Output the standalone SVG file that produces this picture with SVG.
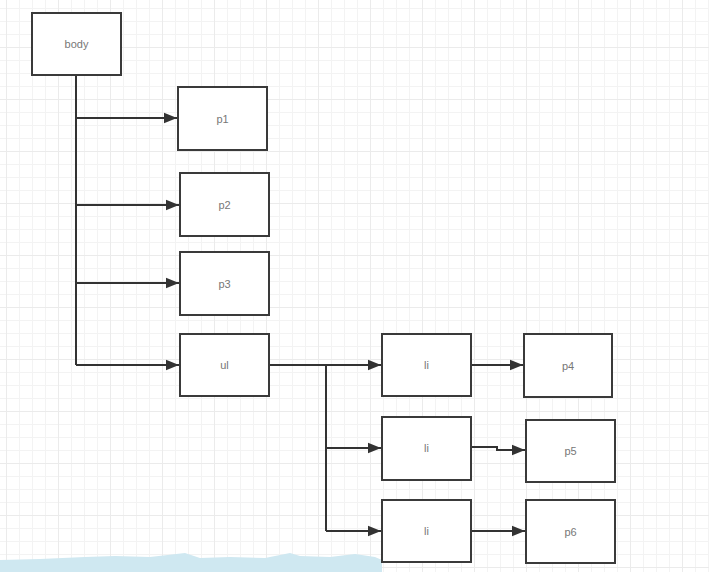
<svg xmlns="http://www.w3.org/2000/svg" width="709" height="572" viewBox="0 0 709 572">
<defs>
<pattern id="minor" x="6" y="8" width="13" height="13" patternUnits="userSpaceOnUse">
<path d="M0 0.5H13M0.5 0V13" fill="none" stroke="#f3f3f3" stroke-width="1"/>
</pattern>
<pattern id="major" x="6" y="47" width="52" height="52" patternUnits="userSpaceOnUse">
<path d="M0 0.5H52M0.5 0V52" fill="none" stroke="#ebebeb" stroke-width="1"/>
</pattern>
<marker id="arr" viewBox="0 0 10 10" refX="10" refY="5" markerWidth="13" markerHeight="13" markerUnits="userSpaceOnUse" orient="auto">
<path d="M0 1L10 5L0 9Z" fill="#333"/>
</marker>
</defs>
<style>
.box{fill:#fff;stroke:#3a3a3a;stroke-width:2}
.lbl{font-family:"Liberation Sans",Arial,sans-serif;font-size:11px;fill:#777;text-anchor:middle;dominant-baseline:central}
.ln{fill:none;stroke:#333;stroke-width:2}
.bar{fill:#cfe8f1}
</style>
<rect width="709" height="572" fill="#fff"/>
<rect width="709" height="572" fill="url(#minor)"/>
<rect width="709" height="572" fill="url(#major)"/>
<path class="bar" d="M0 572V560L40 559L85 557L115 556L150 557L185 553L200 558L230 557L265 558L290 553L300 556L330 557L355 554L375 557L382 560V572Z"/>
<g id="connectors">
<path class="ln" d="M76 75V365"/>
<path class="ln" d="M76 118H177" marker-end="url(#arr)"/>
<path class="ln" d="M76 205H179" marker-end="url(#arr)"/>
<path class="ln" d="M76 283H179" marker-end="url(#arr)"/>
<path class="ln" d="M76 365H179" marker-end="url(#arr)"/>
<path class="ln" d="M269 365H381" marker-end="url(#arr)"/>
<path class="ln" d="M326 365V531"/>
<path class="ln" d="M326 448H381" marker-end="url(#arr)"/>
<path class="ln" d="M326 531H381" marker-end="url(#arr)"/>
<path class="ln" d="M471 365H523" marker-end="url(#arr)"/>
<path class="ln" d="M471 447H497V450H525" marker-end="url(#arr)"/>
<path class="ln" d="M471 531H525" marker-end="url(#arr)"/>
</g>
<g id="body"><rect class="box" x="32" y="13" width="89" height="62"/><text class="lbl" x="76.5" y="44">body</text></g>
<g id="p1"><rect class="box" x="178" y="87" width="89" height="63"/><text class="lbl" x="222.5" y="118.5">p1</text></g>
<g id="p2"><rect class="box" x="180" y="173" width="89" height="63"/><text class="lbl" x="224.5" y="204.5">p2</text></g>
<g id="p3"><rect class="box" x="180" y="252" width="89" height="63"/><text class="lbl" x="224.5" y="283.5">p3</text></g>
<g id="ul"><rect class="box" x="180" y="334" width="89" height="62"/><text class="lbl" x="224.5" y="365">ul</text></g>
<g id="li1"><rect class="box" x="382" y="334" width="89" height="62"/><text class="lbl" x="426.5" y="365">li</text></g>
<g id="li2"><rect class="box" x="382" y="417" width="89" height="63"/><text class="lbl" x="426.5" y="448">li</text></g>
<g id="li3"><rect class="box" x="382" y="500" width="89" height="62"/><text class="lbl" x="426.5" y="531">li</text></g>
<g id="p4"><rect class="box" x="524" y="334" width="88" height="63"/><text class="lbl" x="568" y="365.5">p4</text></g>
<g id="p5"><rect class="box" x="526" y="420" width="89" height="62"/><text class="lbl" x="570.5" y="451">p5</text></g>
<g id="p6"><rect class="box" x="526" y="500" width="89" height="63"/><text class="lbl" x="570.5" y="531.5">p6</text></g>
</svg>
